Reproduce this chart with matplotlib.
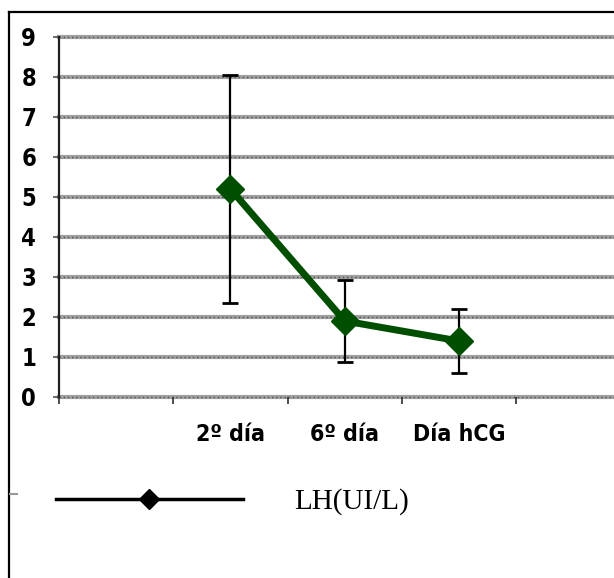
import matplotlib
matplotlib.use('Agg')
import matplotlib.pyplot as plt
from matplotlib.lines import Line2D
from matplotlib import font_manager as fm

# categories (first slot is an empty category, as in the original sheet)
categories = ['', '2º día', '6º día', 'Día hCG']
lh_mean = [5.2, 1.9, 1.4]
lh_err = [2.85, 1.02, 0.8]
yticks = list(range(0, 10))
series_name = 'LH(UI/L)'

green = '#004f00'


def pick_narrow():
    # prefer a narrow bold sans, fall back to Liberation Sans bold
    for fam, stretch in [('Liberation Sans Narrow', 'normal'), ('DejaVu Sans', 'condensed')]:
        try:
            fp = fm.FontProperties(family=fam, weight='bold', stretch=stretch)
            path = fm.findfont(fp, fallback_to_default=False)
        except Exception:
            continue
        if 'Narrow' in path or 'Condensed' in path:
            return dict(family=fam, fontstretch=stretch), (1.0 if 'Narrow' in path else 0.85)
    return dict(family='Liberation Sans', fontstretch='normal'), 0.9


font_kw, scale = pick_narrow()

W, H = 614, 578
fig = plt.figure(figsize=(W / 100, H / 100), dpi=100)
fig.patch.set_facecolor('white')

# axes placement in pixels
x0, x1, y0, y9 = 59, 614, 397, 37
cat_w = 114.3
ax = fig.add_axes([x0 / W, 1 - y0 / H, (x1 - x0) / W, (y0 - y9) / H])
ax.set_xlim(0, (x1 - x0) / cat_w)
ax.set_ylim(0, 9)

xpos = [i + 0.5 for i in range(1, len(categories))]

# gridlines (thick grey with a dotted core)
for t in yticks:
    ax.axhline(t, color='#a0a0a0', lw=3.0, zorder=1, clip_on=False)
    ax.axhline(t, color='#505050', lw=1.0, ls=(0, (1, 2)), zorder=1.1, clip_on=False)

ax.errorbar(xpos, lh_mean, yerr=lh_err, fmt='none', ecolor='black',
            elinewidth=1.6, capsize=6, capthick=2, zorder=3)
ax.plot(xpos, lh_mean, color=green, lw=5, marker='D', ms=14,
        markeredgecolor=green, zorder=4)

for s in ['top', 'right', 'bottom']:
    ax.spines[s].set_visible(False)
ax.spines['left'].set_color('#202020')
ax.spines['left'].set_linewidth(1.6)

ax.set_yticks(yticks)
ax.set_yticklabels([str(t) for t in yticks], fontweight='bold',
                   fontsize=20 * scale, **font_kw)
ax.tick_params(axis='y', length=4.5, width=1.2, color='#505050', pad=12)

ax.set_xticks(range(0, 5))
ax.set_xticklabels([])
ax.set_xticks(xpos, minor=True)
ax.set_xticklabels(categories[1:], minor=True, fontweight='bold',
                   fontsize=19.5 * scale, **font_kw)
ax.tick_params(axis='x', which='major', length=5, width=1.2, color='#303030', direction='out')
ax.tick_params(axis='x', which='minor', length=0, pad=19)

# page frame (left and top edges only)
fig.add_artist(Line2D([9 / W, 9 / W], [0, 1 - 12 / H], color='black', lw=1.6))
fig.add_artist(Line2D([9 / W, 1], [1 - 12 / H, 1 - 12 / H], color='black', lw=1.6))
fig.add_artist(Line2D([10 / W, 17 / W], [1 - 494 / H, 1 - 494 / H], color='#999999', lw=1.5))

handle = Line2D([], [], color='black', lw=2.5, marker='D', ms=10.5)
fig.legend([handle], [series_name], loc='center left',
           bbox_to_anchor=(56 / W, 1 - 502 / H), frameon=False,
           borderpad=0, borderaxespad=0, handlelength=6.4, handletextpad=1.75,
           prop={'family': 'Liberation Serif', 'size': 21})

fig.savefig('out.png', dpi=100)
